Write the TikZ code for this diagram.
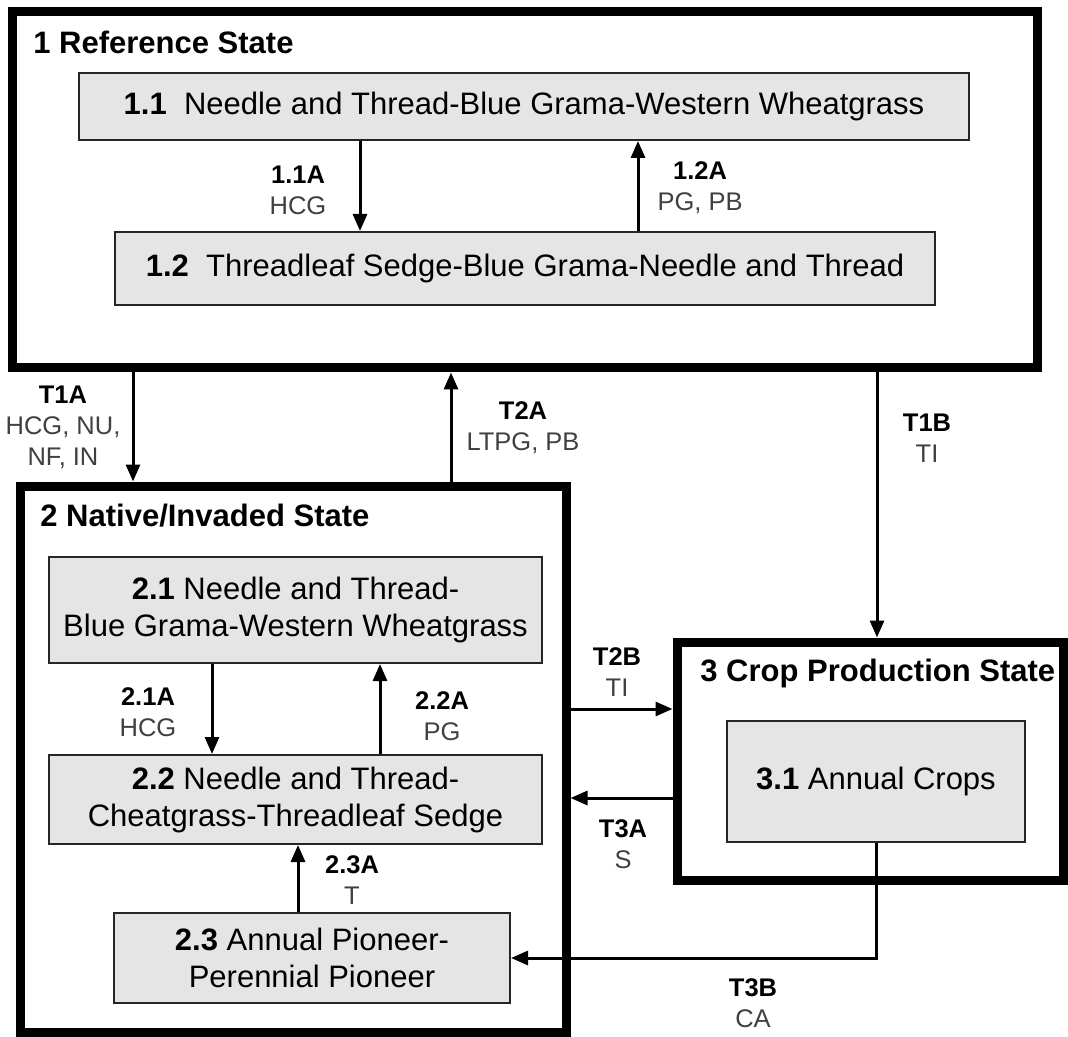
\documentclass[tikz,border=0pt]{standalone}
\usepackage{fontspec}
\setmainfont{Liberation Sans}
\usetikzlibrary{arrows.meta,positioning}

\begin{document}
\begin{tikzpicture}[
	x=0.5pt, y=-0.5pt,
	state/.style={draw, line width=4.5pt, inner sep=0pt},
	substate/.style={draw=black!85, line width=1pt, fill=gray!20, align=center, inner sep=0pt, font=\fontsize{15.5}{18.5}\selectfont},
	title/.style={anchor=west, inner sep=0pt, font=\fontsize{15.5}{18.5}\selectfont\bfseries},
	lbl/.style={align=center, inner sep=0pt, font=\fontsize{12.75}{15.5}\selectfont},
	arr/.style={-{Triangle[length=8.5pt,width=7pt]}, line width=1.5pt}
	]
	\useasboundingbox (0,0) rectangle (1068,1036);
	
	% states
	\node[state, minimum width=512.5pt, minimum height=178pt] (s1) at (524.5,190) {};
	\node[state, minimum width=273pt, minimum height=273pt] (s2) at (293,759) {};
	\node[state, minimum width=193pt, minimum height=119pt] (s3) at (870,761) {};
	
	\node[title] (t1) at (33,42) {1 Reference State};
	\node[title] (t2) at (40,516) {2 Native/Invaded State};
	\node[title] (t3) at (700,673) {3 Crop Production State};
	
	% community phases
	\node[substate, minimum width=445pt, minimum height=33.5pt] (b11) at (524,106.5) {\textbf{1.1}~~Needle and Thread-Blue Grama-Western Wheatgrass};
	\node[substate, minimum width=410pt, minimum height=36.5pt] (b12) at (525,268.5) {\textbf{1.2}~~Threadleaf Sedge-Blue Grama-Needle and Thread};
	\node[substate, minimum width=246.5pt, minimum height=53pt] (b21) at (295.5,610) {\textbf{2.1} Needle and Thread-\\Blue Grama-Western Wheatgrass};
	\node[substate, minimum width=246.5pt, minimum height=44.5pt] (b22) at (295.5,799.5) {\textbf{2.2} Needle and Thread-\\Cheatgrass-Threadleaf Sedge};
	\node[substate, minimum width=198pt, minimum height=45pt] (b23) at (312,958) {\textbf{2.3} Annual Pioneer-\\Perennial Pioneer};
	\node[substate, minimum width=149pt, minimum height=60.5pt] (b31) at (876,781.5) {\textbf{3.1} Annual Crops};
	
	% pathway labels
	\node[lbl] (l11) at (298,190) {\textbf{1.1A}\\{\color{black!75}HCG}};
	\node[lbl] (l12) at (700,188) {\textbf{1.2A}\\{\color{black!75}PG, PB}};
	\node[lbl] (l21) at (148,712) {\textbf{2.1A}\\{\color{black!75}HCG}};
	\node[lbl] (l22) at (442,716) {\textbf{2.2A}\\{\color{black!75}PG}};
	\node[lbl] (l23) at (352,880) {\textbf{2.3A}\\{\color{black!75}T}};
	\node[lbl] (lt1a) at (63,427) {\textbf{T1A}\\{\color{black!75}HCG, NU,}\\{\color{black!75}NF, IN}};
	\node[lbl] (lt2a) at (523,428) {\textbf{T2A}\\{\color{black!75}LTPG, PB}};
	\node[lbl] (lt1b) at (927,438) {\textbf{T1B}\\{\color{black!75}TI}};
	\node[lbl] (lt2b) at (617,672) {\textbf{T2B}\\{\color{black!75}TI}};
	\node[lbl] (lt3a) at (623,844) {\textbf{T3A}\\{\color{black!75}S}};
	\node[lbl] (lt3b) at (753,1003) {\textbf{T3B}\\{\color{black!75}CA}};
	
	% arrow positions
	\coordinate (a11) at (360,0);
	\coordinate (a12) at (638,0);
	\coordinate (a21) at (212,0);
	\coordinate (a22) at (380,0);
	\coordinate (a23) at (298,0);
	\coordinate (at1a) at (133,0);
	\coordinate (at2a) at (451,0);
	\coordinate (at1b) at (877,0);
	\coordinate (at2b) at (0,709);
	\coordinate (at3a) at (0,798);
	
	\draw[arr] (b11.south -| a11) -- (b12.north -| a11);
	\draw[arr] (b12.north -| a12) -- (b11.south -| a12);
	\draw[arr] (b21.south -| a21) -- (b22.north -| a21);
	\draw[arr] (b22.north -| a22) -- (b21.south -| a22);
	\draw[arr] (b23.north -| a23) -- (b22.south -| a23);
	
	\draw[arr] (s1.south -| at1a) -- (s2.north -| at1a);
	\draw[arr] (s2.north -| at2a) -- (s1.south -| at2a);
	\draw[arr] (s1.south -| at1b) -- (s3.north -| at1b);
	\draw[arr] (s2.east |- at2b) -- (s3.west |- at2b);
	\draw[arr] (s3.west |- at3a) -- (s2.east |- at3a);
	\draw[arr] (b31.south) |- (b23.east);
	
\end{tikzpicture}
\end{document}
